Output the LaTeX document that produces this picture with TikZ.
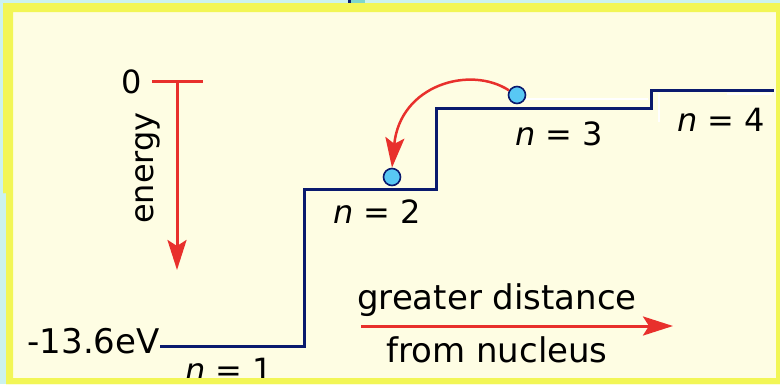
\documentclass[tikz,border=0pt]{standalone}
\usepackage{fontspec}
\setmainfont{DejaVu Sans}
\usetikzlibrary{arrows.meta}
\definecolor{skyback}{HTML}{CCF2EE}
\definecolor{frameyellow}{HTML}{F2F656}
\definecolor{paper}{HTML}{FEFDE3}
\definecolor{levelblue}{HTML}{0A1A6E}
\definecolor{arrowred}{HTML}{E8302C}
\definecolor{dotblue}{HTML}{58C8F4}
\definecolor{tealbit}{HTML}{7FD6CC}
\tikzstyle{lvltext} = [
    font=\fontsize{32}{38}\selectfont,
    inner sep=0pt
]
\tikzstyle{widetext} = [
    font=\fontsize{34}{40}\selectfont,
    inner sep=0pt
]
\tikzstyle{stair} = [
    draw=levelblue,
    line width=3pt
]
\tikzstyle{electron} = [
    circle,
    draw=levelblue,
    fill=dotblue,
    line width=1.6pt,
    minimum size=17pt,
    inner sep=0pt
]
\tikzstyle{redarrow} = [
    draw=arrowred,
    line width=3pt,
    -{Stealth[length=30pt,width=19pt,inset=6pt]}
]

\begin{document}
\begin{tikzpicture}[x=1pt, y=-1pt]

\useasboundingbox (0,0) rectangle (780,384);

\fill[skyback] (0,0) rectangle (780,384);
\fill[levelblue] (348,0) rectangle (351,3);
\fill[tealbit] (351,0) rectangle (365,3);
\fill[frameyellow] (3,3) -- (780,3) -- (780,384) -- (6,384) -- (6,193) -- (3,193) -- cycle;
\fill[paper] (13,12) rectangle (776,378);

\node (zero) [lvltext] at (132,82) {0};

\node (energy) [lvltext, rotate=90] at (148,168) {energy};

\node (ground) [widetext, anchor=base east] at (160,353) {-13.6eV};

\node (n1) [lvltext, anchor=base west] at (185,381) {\textit{n} = 1};

\node (n2) [lvltext, anchor=base west] at (333,223) {\textit{n} = 2};

\node (n3) [lvltext, anchor=base west] at (515,145) {\textit{n} = 3};

\node (n4) [lvltext, anchor=base west] at (677,131) {\textit{n} = 4};

\node (greater) [widetext, anchor=base] at (497,309) {greater distance};

\node (nucleus) [widetext, anchor=base] at (497,362) {from nucleus};

\coordinate (barleft) at (152,81);
\coordinate (barright) at (203,81);
\coordinate (etop) at (177,81);
\coordinate (ebottom) at (177,270);
\coordinate (dstart) at (361,326);
\coordinate (dend) at (673,326);

\draw[white, line width=2pt] (525,99) -- (648,99);
\draw[white, line width=2pt] (659,93) -- (659,122);
\draw[white, line width=2pt] (727,94) -- (772,94);

\draw [stair] (160,346) -| (304,189) -| (436,108) -| (651,90) -- (774,90);

\node (e2) [electron] at (392,177) {};

\node (e3) [electron] at (517,95) {};

\draw [arrowred, line width=3pt] (barleft) -- (barright);
\draw [redarrow] (etop) -- (ebottom);
\draw [redarrow] (dstart) -- (dend);
\draw [redarrow, line width=2.5pt] (e3.150) .. controls (470,65) and (400,85) .. (e2.north);

\fill[frameyellow, even odd rule] (3,3) -- (780,3) -- (780,384) -- (6,384) -- (6,193) -- (3,193) -- cycle
    (13,12) rectangle (776,378);

\end{tikzpicture}
\end{document}
